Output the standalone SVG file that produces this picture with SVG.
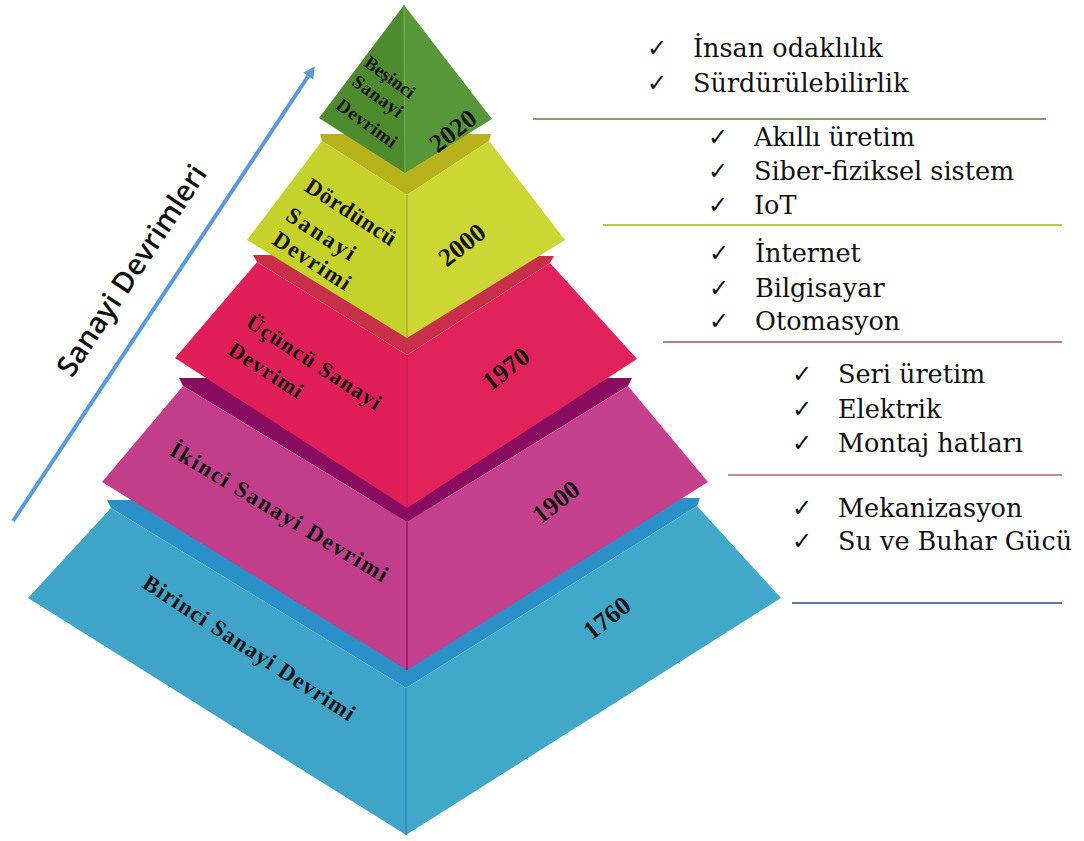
<svg xmlns="http://www.w3.org/2000/svg" width="1084" height="841" viewBox="0 0 1084 841">
<defs>
<style>
.lbl{font-family:"Liberation Serif","Times New Roman",serif;font-weight:bold;fill:#111;text-anchor:middle;dominant-baseline:central}
.yr{font-family:"Liberation Serif","Times New Roman",serif;font-weight:bold;fill:#111;text-anchor:middle;dominant-baseline:central;font-size:26px}
.it{font-family:"DejaVu Serif",serif;font-size:25.5px;fill:#111}
.ck{font-family:"DejaVu Sans",sans-serif;font-size:24px;fill:#111}
.sep{stroke-width:2;fill:none}
.ridge{stroke-width:1.5;fill:none}
</style>
<marker id="ah" markerWidth="12" markerHeight="12" refX="5" refY="6" orient="auto" markerUnits="userSpaceOnUse" viewBox="0 0 12 12">
<path d="M0,0 L12,6 L0,12 z" fill="#5b9bd5"/>
</marker>
</defs>
<rect width="1084" height="841" fill="#ffffff"/>

<g id="layer-birinci">
<polygon points="107,500 700,498 697,506 406,688 111,508" fill="#2b90c8"/>
<polygon points="111,508 28,598 406,835 406,688" fill="#3fa4c7"/>
<polygon points="406,688 697,506 781,598 406,835" fill="#42a8c9"/>
<line class="ridge" x1="406" y1="688" x2="406" y2="835" stroke="#2c8db9"/>
<text class="lbl" font-size="23" textLength="248" lengthAdjust="spacing" transform="rotate(33 249 648)" x="249" y="648">Birinci Sanayi Devrimi</text>
<text class="yr" transform="rotate(-38 607 618)" x="607" y="618">1760</text>
</g>

<g id="layer-ikinci">
<polygon points="179,378 632,378 628,386 407,522 183,386" fill="#8a0c60"/>
<polygon points="183,386 102,482 407,670 407,522" fill="#c23e8a"/>
<polygon points="407,522 628,386 708,482 407,670" fill="#c5418d"/>
<line class="ridge" x1="407" y1="522" x2="407" y2="670" stroke="#8d1a68"/>
<text class="lbl" font-size="23" textLength="250" lengthAdjust="spacing" transform="rotate(31 279 512)" x="279" y="512">İkinci Sanayi Devrimi</text>
<text class="yr" transform="rotate(-38 556 502)" x="556" y="502">1900</text>
</g>

<g id="layer-ucuncu">
<polygon points="253,255 554,256 550,263 407,355 257,262" fill="#c8304a"/>
<polygon points="257,262 175,358 407,508 407,355" fill="#e01f59"/>
<polygon points="407,355 550,263 637,359 407,508" fill="#e2225b"/>
<line class="ridge" x1="407" y1="355" x2="407" y2="508" stroke="#c81a50"/>
<text class="lbl" font-size="22" textLength="156" lengthAdjust="spacing" transform="rotate(33 314 362)" x="314" y="362">Üçüncü Sanayi</text>
<text class="lbl" font-size="22" textLength="84" lengthAdjust="spacing" transform="rotate(33 266 370)" x="266" y="370">Devrimi</text>
<text class="yr" transform="rotate(-38 506 369)" x="506" y="369">1970</text>
</g>

<g id="layer-dorduncu">
<polygon points="320,134 491,134 489,141 407,195 322,141" fill="#b7b21b"/>
<polygon points="322,141 247,240 407,338 407,195" fill="#c6d22c"/>
<polygon points="407,195 489,141 565,240 407,338" fill="#ccd634"/>
<line class="ridge" x1="407" y1="195" x2="407" y2="338" stroke="#aab522"/>
<text class="lbl" font-size="23" textLength="104" lengthAdjust="spacing" transform="rotate(33 351 212)" x="351" y="212">Dördüncü</text>
<text class="lbl" font-size="23" textLength="78" lengthAdjust="spacing" transform="rotate(33 321 234)" x="321" y="234">Sanayi</text>
<text class="lbl" font-size="23" textLength="88" lengthAdjust="spacing" transform="rotate(33 312 261)" x="312" y="261">Devrimi</text>
<text class="yr" transform="rotate(-38 462 245)" x="462" y="245">2000</text>
</g>

<g id="layer-besinci">
<polygon points="404,5 319,118 405,173" fill="#4e8b2f"/>
<polygon points="404,5 492,119 405,173" fill="#57973a"/>
<line class="ridge" x1="404" y1="5" x2="405" y2="173" stroke="#6aa84a"/>
<text class="lbl" font-size="19" textLength="58" lengthAdjust="spacing" transform="rotate(36 390 77)" x="390" y="77">Beşinci</text>
<text class="lbl" font-size="19" textLength="58" lengthAdjust="spacing" transform="rotate(36 378 96)" x="378" y="96">Sanayi</text>
<text class="lbl" font-size="19" textLength="70" lengthAdjust="spacing" transform="rotate(36 367 123)" x="367" y="123">Devrimi</text>
<text class="yr" font-size="25" transform="rotate(-38 453 131)" x="453" y="131">2020</text>
</g>

<g id="arrow">
<line x1="13" y1="521" x2="311" y2="72" stroke="#5b9bd5" stroke-width="4" marker-end="url(#ah)"/>
<text font-family="'Open Sans','DejaVu Sans',sans-serif" font-size="29" font-weight="600" fill="#111" text-anchor="middle" transform="rotate(-56.5 140 276)" x="140" y="276">Sanayi Devrimleri</text>
</g>

<g id="connectors">
<line class="sep" x1="533" y1="119" x2="1046" y2="119" stroke="#7fa65c"/>
<line class="sep" x1="603" y1="225" x2="1062" y2="225" stroke="#b6ca4e"/>
<line class="sep" x1="663" y1="342" x2="1062" y2="342" stroke="#c8709f"/>
<line class="sep" x1="728" y1="475" x2="1062" y2="475" stroke="#c186ab"/>
<line class="sep" x1="792" y1="603" x2="1062" y2="603" stroke="#5d7ca5"/>
</g>

<g id="list-besinci">
<text class="ck" x="647" y="56">✓</text><text class="it" x="693" y="57">İnsan odaklılık</text>
<text class="ck" x="647" y="91">✓</text><text class="it" x="693" y="92">Sürdürülebilirlik</text>
</g>
<g id="list-dorduncu">
<text class="ck" x="708" y="145">✓</text><text class="it" x="754" y="146">Akıllı üretim</text>
<text class="ck" x="708" y="179">✓</text><text class="it" x="754" y="180">Siber-fiziksel sistem</text>
<text class="ck" x="708" y="213">✓</text><text class="it" x="754" y="214">IoT</text>
</g>
<g id="list-ucuncu">
<text class="ck" x="709" y="261">✓</text><text class="it" x="755" y="262">İnternet</text>
<text class="ck" x="709" y="296">✓</text><text class="it" x="755" y="297">Bilgisayar</text>
<text class="ck" x="709" y="329">✓</text><text class="it" x="755" y="330">Otomasyon</text>
</g>
<g id="list-ikinci">
<text class="ck" x="792" y="382">✓</text><text class="it" x="838" y="383">Seri üretim</text>
<text class="ck" x="792" y="417">✓</text><text class="it" x="838" y="418">Elektrik</text>
<text class="ck" x="792" y="451">✓</text><text class="it" x="838" y="452">Montaj hatları</text>
</g>
<g id="list-birinci">
<text class="ck" x="792" y="516">✓</text><text class="it" x="838" y="517">Mekanizasyon</text>
<text class="ck" x="792" y="549">✓</text><text class="it" x="838" y="550">Su ve Buhar Gücü</text>
</g>
</svg>
